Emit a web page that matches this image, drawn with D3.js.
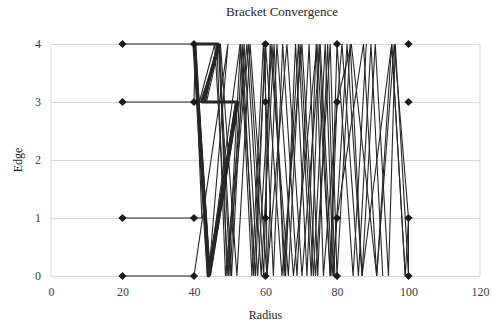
<!DOCTYPE html>
<html>
<head>
<meta charset="utf-8">
<script src="https://cdn.jsdelivr.net/npm/d3@7/dist/d3.min.js"></script>
<style>
  body { margin: 0; background: #fff; }
  svg { display: block; }
  .grid line { stroke: #d9d9d9; }
</style>
</head>
<body>
<svg id="chart"></svg>
<script>
// axis ticks
const radiusTicks = [0, 20, 40, 60, 80, 100, 120];
const edgeTicks = [0, 1, 2, 3, 4];

// marker positions (radius x edge)
const markerRadii = [20, 40, 60, 80, 100];
const markerEdges = [0, 1, 3, 4];

// first bracket, drawn heavier
const bracketLead = [[47,4],[40,4],[44,0],[52,3],[42.4,3],[47,4]];

// bracket paths, [radius, edge] in drawing order
const bracketEdge4 = [[20,4],[40,4],[43.8,0],[51.8,3],[42.6,3],[46.8,4],[50.1,0],[53.5,4],[56.7,0],[60,4],[64.6,0],[70.2,4],[74,0],[78.1,4],[80,0],[83.7,4],[87,0],[90.7,4],[94.4,0],[96.3,4],[100,0]];
const bracketEdge3 = [[20,3],[40,3],[40.4,4],[44.4,0],[52.3,3],[41.8,3],[47.3,4],[49.2,0],[55.3,4],[59.5,0],[61.3,4],[66.4,0],[69.7,4],[73.4,0],[76.7,4],[79,0],[82.8,4],[87,0],[95.3,4],[99.1,0],[100,1],[100,0]];
const bracketEdge1 = [[20,1],[40,1],[42.2,1],[40.2,4],[44.6,0],[52.4,3],[42.2,3],[47.4,4],[52,0],[55.7,4],[60.4,0],[63.2,4],[67.8,0],[74.4,4],[78.1,0],[80,3],[84,4],[91.1,0],[96,4],[100,1]];
const bracketEdge0 = [[20,0],[40,0],[49.5,4],[44.1,0],[52.9,4],[57.2,0],[59.9,4],[60.4,0],[66,4],[70.2,0],[75.3,4],[78.6,0],[80,1],[87.4,4],[91.1,0],[95.3,4],[99.1,0]];
const bracketExtraA = [[40,4],[44.2,0],[51.6,3],[43.2,3],[46.4,4],[48.8,0],[54.8,4],[58.8,0],[62.4,4],[65.2,0],[69.2,4],[72.8,0],[75,4],[78.1,0],[80,4],[84.5,0],[88.2,4]];
const bracketExtraB = [[40.3,4],[43.9,0],[51.9,3],[42.4,3],[46.6,4],[40.1,4],[44.1,0],[52.1,3],[43,3],[47,4],[50.5,0],[54,4],[57.8,0],[61.8,4],[65.6,0],[68.4,4],[71.6,0],[74.2,4],[76.2,0],[81.4,4],[86,0],[89.5,4],[92.8,0]];
const bracketExtraC = [[40.5,4],[44.3,0],[52.2,3],[43.5,3],[47.2,4],[40.4,4],[44.5,0],[52.5,3],[41.5,3],[45.8,4],[49.6,0],[53,4],[56.2,0],[59.4,4],[62.2,0],[64.8,4],[68.8,0],[72.2,4],[74.6,0],[77.4,4],[79.4,0]];

const seriesList = [bracketEdge4, bracketEdge3, bracketEdge1, bracketEdge0, bracketExtraA, bracketExtraB, bracketExtraC];

const width = 492, height = 324;
const margin = { top: 44, right: 12, bottom: 48, left: 51 };
const innerW = width - margin.left - margin.right;
const innerH = height - margin.top - margin.bottom;
const fontFamily = '"Liberation Serif", "DejaVu Serif", serif';

const svg = d3.select('#chart')
    .attr('width', width)
    .attr('height', height)
    .style('font-family', fontFamily);

const chartArea = svg.append('g')
    .attr('transform', `translate(${margin.left},${margin.top})`);

const xScale = d3.scaleLinear().domain([0, 120]).range([0, innerW]);
const yScale = d3.scaleLinear().domain([0, 4]).range([innerH, 0]);

// horizontal gridlines
chartArea.append('g')
    .attr('class', 'grid')
    .call(d3.axisLeft(yScale).tickValues(edgeTicks).tickSize(-innerW).tickFormat(''))
    .call(g => g.select('.domain').remove());

// plot border on left and right
chartArea.append('line')
    .attr('x1', 0).attr('x2', 0).attr('y1', 0).attr('y2', innerH)
    .attr('stroke', '#d9d9d9');
chartArea.append('line')
    .attr('x1', innerW).attr('x2', innerW).attr('y1', 0).attr('y2', innerH)
    .attr('stroke', '#d9d9d9');

// axes labels
chartArea.append('g')
    .attr('transform', `translate(0,${innerH})`)
    .call(d3.axisBottom(xScale).tickValues(radiusTicks).tickSize(0).tickPadding(11).tickFormat(d3.format('d')))
    .call(g => g.select('.domain').remove())
    .attr('font-family', fontFamily)
    .attr('font-size', 12)
    .call(g => g.selectAll('text').attr('fill', '#404040'));

chartArea.append('g')
    .call(d3.axisLeft(yScale).tickValues(edgeTicks).tickSize(0).tickPadding(10).tickFormat(d3.format('d')))
    .call(g => g.select('.domain').remove())
    .attr('font-family', fontFamily)
    .attr('font-size', 12)
    .call(g => g.selectAll('text').attr('fill', '#404040'));

// bracket lines
const line = d3.line()
    .x(d => xScale(d[0]))
    .y(d => yScale(d[1]));

chartArea.selectAll('.bracket')
    .data(seriesList)
    .join('path')
    .attr('class', 'bracket')
    .attr('fill', 'none')
    .attr('stroke', '#262626')
    .attr('stroke-width', 1.1)
    .attr('d', line);

chartArea.append('path')
    .datum(bracketLead)
    .attr('fill', 'none')
    .attr('stroke', '#262626')
    .attr('stroke-width', 3.2)
    .attr('stroke-linejoin', 'round')
    .attr('d', line);

// diamond markers
const markers = markerRadii.flatMap(r => markerEdges.map(e => [r, e]));
chartArea.selectAll('.marker')
    .data(markers)
    .join('path')
    .attr('class', 'marker')
    .attr('d', d3.symbol(d3.symbolSquare, 34))
    .attr('fill', '#1a1a1a')
    .attr('transform', d => `translate(${xScale(d[0])},${yScale(d[1])}) rotate(45)`);

// titles
svg.append('text')
    .attr('x', 282)
    .attr('y', 16)
    .attr('text-anchor', 'middle')
    .attr('font-size', 13)
    .attr('fill', '#262626')
    .text('Bracket Convergence');

svg.append('text')
    .attr('x', margin.left + xScale(60))
    .attr('y', 319)
    .attr('text-anchor', 'middle')
    .attr('font-size', 12)
    .attr('fill', '#262626')
    .text('Radius');

svg.append('text')
    .attr('transform', `translate(22,${margin.top + innerH / 2}) rotate(-90)`)
    .attr('text-anchor', 'middle')
    .attr('font-size', 12)
    .attr('fill', '#262626')
    .text('Edge');
</script>
</body>
</html>
